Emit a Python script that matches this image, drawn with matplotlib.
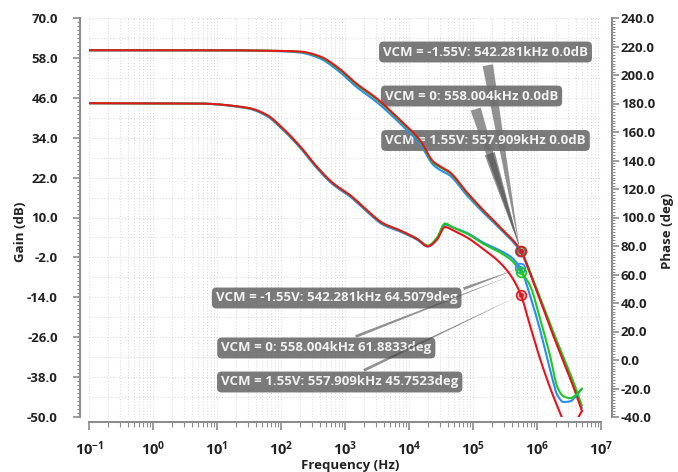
import matplotlib
matplotlib.use("Agg")
import matplotlib.pyplot as plt
import numpy as np
from matplotlib.ticker import FixedLocator, LogLocator, FuncFormatter, NullFormatter

plt.rcParams['font.family'] = ['Open Sans', 'DejaVu Sans']
plt.rcParams['mathtext.fontset'] = 'custom'
plt.rcParams['mathtext.bf'] = 'Open Sans:bold'
plt.rcParams['mathtext.rm'] = 'Open Sans'

# ---------------- data ----------------
series_names = ["VCM = -1.55V", "VCM = 0", "VCM = 1.55V"]
series_colors = ["#2b8cf2", "#1ec81e", "#e3161e"]

freq_gain = [0.1, 10, 100, 200, 400, 800, 1500, 3000, 7000, 15000, 24000, 30000,
             43000, 80000, 143000, 264000, 558000, 860000, 1.6e6, 2.5e6, 3.6e6, 5.0e6]
gain_m155 = [60.3, 60.3, 60.0, 59.6, 57.9, 54.0, 49.3, 45.0, 38.6, 32.0, 25.8, 24.4,
             22.7, 16.7, 11.6, 6.6, -0.4, -8.9, -22.4, -31.8, -39.5, -47.2]
gain_0 = [60.3, 60.3, 60.1, 59.8, 58.3, 54.6, 50.0, 45.8, 39.3, 32.8, 26.4, 25.2,
          23.4, 17.3, 12.1, 7.0, 0.0, -8.5, -22.0, -31.3, -38.8, -46.5]
gain_p155 = [60.3, 60.3, 60.1, 59.9, 58.5, 54.9, 50.3, 46.1, 39.6, 33.1, 26.8, 25.5,
             23.7, 17.6, 12.3, 7.1, 0.0, -9.0, -23.0, -32.6, -40.3, -48.0]

freq_phase = [0.1, 5, 30, 60, 100, 200, 360, 650, 1200, 2200, 3900, 7200, 13300, 19800,
              27400, 36500, 48700, 80500, 143000, 264000, 400000, 558000, 780000, 1.1e6,
              1.6e6, 2.1e6, 2.6e6, 3.3e6, 4.2e6, 5.0e6]
phase_m155 = [180.2, 180.0, 176.6, 171.2, 162.8, 148.8, 134.8, 123.1, 114.7, 104.1, 95.0,
              90.2, 84.5, 79.6, 85.0, 95.0, 93.0, 89.2, 82.5, 76.8, 72.0, 63.9, 45.2, 22.2,
              -6.9, -25.0, -29.5, -29.0, -24.5, -20.3]
phase_0 = [180.2, 180.0, 176.9, 171.8, 163.5, 149.5, 135.6, 123.9, 115.5, 104.9, 95.8,
           90.9, 85.2, 80.3, 85.9, 95.8, 93.0, 88.7, 81.7, 75.5, 70.0, 61.9, 52.2, 30.0,
           2.9, -19.5, -25.5, -26.8, -23.8, -20.3]
phase_p155 = [180.2, 180.0, 177.0, 172.0, 163.8, 149.8, 135.8, 124.1, 115.7, 105.1, 96.0,
              91.0, 85.0, 79.8, 84.5, 93.3, 91.0, 86.0, 78.0, 68.3, 58.5, 45.8, 24.0, 1.7,
              -19.5, -33.0, -43.0, -50.0, -42.0, -36.0]

cross_freq = [542281, 558004, 557909]
cross_gain = [0.0, 0.0, 0.0]
cross_phase = [64.5079, 61.8833, 45.7523]

gains = [gain_m155, gain_0, gain_p155]
phases = [phase_m155, phase_0, phase_p155]


def smooth_path(f, v, n=600):
    """Monotone cubic (PCHIP) curve through the read points, in log-frequency."""
    x = np.log10(np.asarray(f, float))
    y = np.asarray(v, float)
    h = np.diff(x)
    d = np.diff(y) / h
    m = np.zeros_like(y)
    m[0], m[-1] = d[0], d[-1]
    for k in range(1, len(y) - 1):
        if d[k - 1] * d[k] > 0:
            w1 = 2 * h[k] + h[k - 1]
            w2 = h[k] + 2 * h[k - 1]
            m[k] = (w1 + w2) / (w1 / d[k - 1] + w2 / d[k])
    xs = np.linspace(x[0], x[-1], n)
    idx = np.clip(np.searchsorted(x, xs) - 1, 0, len(x) - 2)
    t = (xs - x[idx]) / h[idx]
    h00 = 2 * t**3 - 3 * t**2 + 1
    h10 = t**3 - 2 * t**2 + t
    h01 = -2 * t**3 + 3 * t**2
    h11 = t**3 - t**2
    ys = h00 * y[idx] + h10 * h[idx] * m[idx] + h01 * y[idx + 1] + h11 * h[idx] * m[idx + 1]
    return 10 ** xs, ys


# ---------------- figure ----------------
W, H = 678, 472
fig = plt.figure(figsize=(W / 100, H / 100), dpi=100)
ax = fig.add_axes([89 / W, 55 / H, 512 / W, 399 / H])
ax2 = ax.twinx()
ax.patch.set_alpha(0)

ax.set_xscale('log')
ax.set_xlim(0.1, 1e7)
ax.set_ylim(-50, 70)
ax2.set_ylim(-40, 240)

spine_col = "#8c8c8c"
lab_col = "#222222"

# grid
ax.grid(which='both', axis='x', color='#dedede', linestyle=':', linewidth=0.8)
for v in np.arange(-50, 70.1, 6):
    ax.axhline(v, color='#dedede', linestyle=':', linewidth=0.8, zorder=0)

# curves
for g, c in zip(gains, series_colors):
    fx, fy = smooth_path(freq_gain, g)
    ax.plot(fx, fy, color=c, lw=1.5, zorder=3)
for p, c in zip(phases, series_colors):
    fx, fy = smooth_path(freq_phase, p)
    ax2.plot(fx, fy, color=c, lw=1.5, zorder=3)

# markers
for f, g, p, c in zip(cross_freq, cross_gain, cross_phase, series_colors):
    for a, val in ((ax, g), (ax2, p)):
        a.plot([f], [val], 'o', ms=7, mfc=matplotlib.colors.to_rgba(c, 0.25), mec=c,
               mew=1.2, zorder=4)
        a.plot([f], [val], 'o', ms=2.5, color=c, zorder=4)

# spines
for s in ['top', 'right']:
    ax.spines[s].set_visible(False)
for s in ['top', 'left', 'bottom']:
    ax2.spines[s].set_visible(False)
ax.spines['left'].set_position(('outward', 6.5))
ax.spines['bottom'].set_position(('outward', 3.6))
ax2.spines['right'].set_position(('outward', 7.7))
for sp in [ax.spines['left'], ax.spines['bottom'], ax2.spines['right']]:
    sp.set_color(spine_col)
    sp.set_linewidth(1.5)

# ticks
ax.yaxis.set_major_locator(FixedLocator(np.arange(-50, 70.1, 12)))
ax.yaxis.set_minor_locator(FixedLocator(np.arange(-50, 70.1, 1.2)))
ax.yaxis.set_major_formatter(FuncFormatter(lambda v, p: "%.1f" % v))
ax2.yaxis.set_major_locator(FixedLocator(np.arange(-40, 240.1, 20)))
ax2.yaxis.set_minor_locator(FixedLocator(np.arange(-40, 240.1, 2)))
ax2.yaxis.set_major_formatter(FuncFormatter(lambda v, p: "%.1f" % v))
ax.xaxis.set_major_locator(LogLocator(base=10, numticks=20))
ax.xaxis.set_minor_locator(LogLocator(base=10, subs=np.arange(2, 10), numticks=20))
ax.xaxis.set_minor_formatter(NullFormatter())
ax.xaxis.set_major_formatter(FuncFormatter(lambda v, p: r"$\mathbf{10^{%d}}$" % round(np.log10(v))))

ax.tick_params(axis='y', which='major', length=5, width=1.2, color=spine_col, pad=11,
               labelsize=9.5, labelcolor=lab_col)
ax.tick_params(axis='y', which='minor', length=2.3, width=0.8, color=spine_col)
ax2.tick_params(axis='y', which='major', length=5, width=1.2, color=spine_col, pad=1.5,
                labelsize=9.5, labelcolor=lab_col)
ax2.tick_params(axis='y', which='minor', length=2.3, width=0.8, color=spine_col)
ax.tick_params(axis='x', which='major', length=5.5, width=1.2, color=spine_col, pad=8,
               labelsize=10.5, labelcolor=lab_col)
ax.tick_params(axis='x', which='minor', length=3.5, width=0.8, color=spine_col)
for lab in ax.get_yticklabels() + ax2.get_yticklabels():
    lab.set_fontweight('bold')

# axis labels
fig.text(350 / W, 1 - 466 / H, "Frequency (Hz)", ha='center', va='center',
         fontsize=9.5, fontweight='bold', color=lab_col)
fig.text(20 / W, 1 - 232 / H, "Gain (dB)", ha='center', va='center', rotation=90,
         fontsize=9.5, fontweight='bold', color=lab_col)
fig.text(668 / W, 1 - 231 / H, "Phase (deg)", ha='center', va='center', rotation=90,
         fontsize=9.5, fontweight='bold', color=lab_col)

# annotations
box = dict(boxstyle="round,pad=0.3,rounding_size=0.35", fc="#6f6f6f", ec="none", alpha=0.92)
gain_box_pos = [(485.5, 52), (471.5, 96), (485.5, 140.5)]
phase_box_pos = [(336.7, 298), (326.3, 348), (339.7, 382)]
phase_relpos = [(0.92, 0.5), (0.5, 0.5), (0.5, 0.5)]
for i in range(3):
    ftxt = "%.3fkHz" % (cross_freq[i] / 1000)
    txt = "%s: %s %.1fdB" % (series_names[i], ftxt, cross_gain[i])
    bx, by = gain_box_pos[i]
    ax.annotate(txt, xy=(cross_freq[i], cross_gain[i]), xycoords='data',
                xytext=(bx / W, 1 - by / H), textcoords='figure fraction',
                ha='center', va='center', fontsize=9.5, fontweight='bold', color='#f2f2f2',
                bbox=box, zorder=2, annotation_clip=False,
                arrowprops=dict(arrowstyle="wedge,tail_width=0.8,shrink_factor=0.5",
                                fc="#4a4a4a", ec="none", alpha=0.6))
for i in range(3):
    ftxt = "%.3fkHz" % (cross_freq[i] / 1000)
    txt = "%s: %s %.4fdeg" % (series_names[i], ftxt, cross_phase[i])
    bx, by = phase_box_pos[i]
    ax2.annotate(txt, xy=(cross_freq[i], cross_phase[i]), xycoords='data',
                 xytext=(bx / W, 1 - by / H), textcoords='figure fraction',
                 ha='center', va='center', fontsize=9.5, fontweight='bold', color='#f2f2f2',
                 bbox=box, zorder=2, annotation_clip=False,
                 arrowprops=dict(arrowstyle="wedge,tail_width=0.22,shrink_factor=0.5",
                                 fc="#4a4a4a", ec="none", alpha=0.6,
                                 relpos=phase_relpos[i]))

fig.savefig("out.png", dpi=100)
